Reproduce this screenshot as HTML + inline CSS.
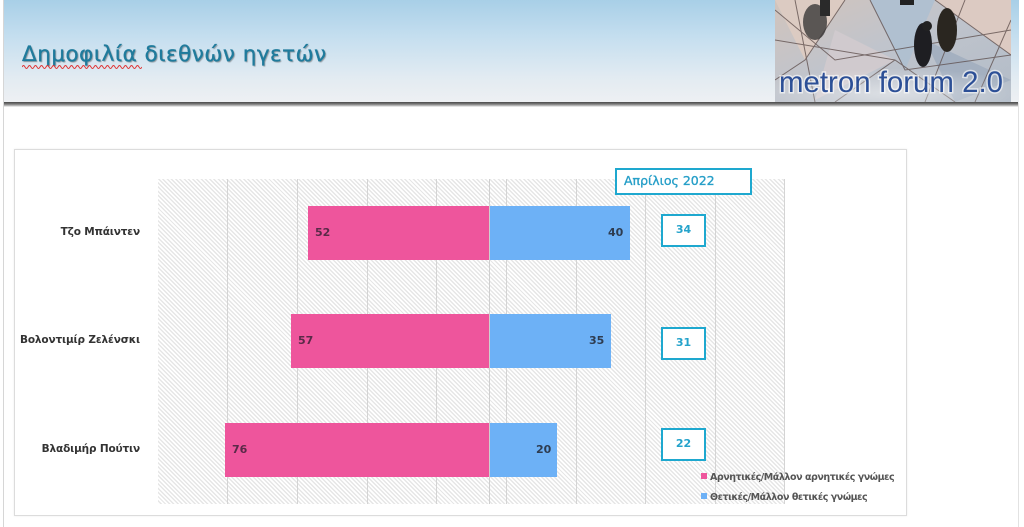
<!DOCTYPE html>
<html><head><meta charset="utf-8"><style>
html,body{margin:0;padding:0;}
body{width:1024px;height:527px;position:relative;overflow:hidden;background:#fff;font-family:"DejaVu Sans","Liberation Sans",sans-serif;}
.abs{position:absolute;}
#page{left:3px;top:0;width:1016px;height:527px;border-left:1px solid #d6d6d6;border-right:1px solid #e2e2e2;box-sizing:border-box;}
#hdr{left:4px;top:0;width:1015px;height:103px;background:linear-gradient(to bottom,#a8cfe7 0%,#c4deef 35%,#e2ebf2 75%,#eef0f3 100%);}
#shadow{left:4px;top:102px;width:1014px;height:5px;background:linear-gradient(to bottom,#4a4a4a 0%,#777 40%,#c8c8c8 80%,#fff 100%);}
#title{left:22px;top:42px;font-size:21.5px;color:#1f7b9c;text-shadow:1px 1px 1px rgba(0,0,0,0.35);white-space:nowrap;letter-spacing:0.5px;-webkit-text-stroke:0.35px #1f7b9c;}
#chart{left:14px;top:149px;width:893px;height:367px;border:1px solid #dcdcdc;box-sizing:border-box;box-shadow:0 0 2px rgba(0,0,0,0.08);}
#plot{left:158px;top:179px;width:627px;height:325px;background:repeating-linear-gradient(45deg,#ffffff 0px,#ffffff 1.6px,#e6e6e6 1.6px,#e6e6e6 3px);}
.grid{position:absolute;top:179px;width:1px;height:325px;background:#d4d4d4;}
.bar{position:absolute;height:54px;}
.pink{background:#ee559c;}
.blue{background:#6db1f6;}
.lbl{position:absolute;font-size:11px;font-weight:bold;line-height:14px;}
.cat{position:absolute;right:884px;font-size:10.5px;font-weight:bold;color:#333;white-space:nowrap;text-align:right;letter-spacing:-0.15px;}
.box{position:absolute;width:45px;height:33px;border:2.5px solid #1ea8cf;box-sizing:border-box;background:#fff;color:#25a3cb;font-size:11px;font-weight:bold;text-align:center;line-height:28px;}
#month{left:615px;top:168px;width:137px;height:27px;border:2.5px solid #1ea8cf;box-sizing:border-box;background:#fff;color:#279fc8;font-size:12.5px;line-height:22px;padding-left:7px;white-space:nowrap;-webkit-text-stroke:0.35px #279fc8;}
.leg{position:absolute;font-size:9.5px;font-weight:bold;color:#555;white-space:nowrap;line-height:12px;letter-spacing:-0.45px;}
.sq{display:inline-block;width:6px;height:6px;margin-right:3px;vertical-align:1px;}
</style></head><body>
<div id="page" class="abs"></div>
<div id="hdr" class="abs"></div>
<div id="shadow" class="abs"></div>
<div id="title" class="abs">Δημοφιλία διεθνών ηγετών</div>
<svg class="abs" style="left:22px;top:64px" width="120" height="6"><path d="M0 3 Q1.5 0 3 3 T6 3 T9 3 T12 3 T15 3 T18 3 T21 3 T24 3 T27 3 T30 3 T33 3 T36 3 T39 3 T42 3 T45 3 T48 3 T51 3 T54 3 T57 3 T60 3 T63 3 T66 3 T69 3 T72 3 T75 3 T78 3 T81 3 T84 3 T87 3 T90 3 T93 3 T96 3 T99 3 T102 3 T105 3 T108 3 T111 3 T114 3 T117 3 T120 3" stroke="#e03030" stroke-width="0.9" fill="none"/></svg>

<svg class="abs" style="left:775px;top:0" width="236" height="102">
<defs>
<linearGradient id="lg" x1="0" y1="0" x2="1" y2="1">
<stop offset="0" stop-color="#d2c4bc"/><stop offset="0.45" stop-color="#c0c4cc"/><stop offset="1" stop-color="#b2bcc8"/>
</linearGradient>
<radialGradient id="rg" cx="0.5" cy="0.8" r="0.6"><stop offset="0" stop-color="#ffffff" stop-opacity="0.5"/><stop offset="1" stop-color="#ffffff" stop-opacity="0"/></radialGradient>
</defs>
<rect width="236" height="102" fill="url(#lg)"/>
<polygon points="0,0 70,0 30,60" fill="#dccbc2"/>
<polygon points="95,0 160,0 130,70" fill="#b0c0d0"/>
<polygon points="160,0 236,0 236,55" fill="#dccac2"/>
<polygon points="60,30 120,60 40,100" fill="#d0cace"/>
<polygon points="150,40 236,80 180,102" fill="#a4b0c0"/>
<g stroke="#5a4a48" stroke-width="1" fill="none" opacity="0.75">
<path d="M0 10 L60 60 L236 30"/><path d="M20 0 L40 102"/><path d="M70 0 L30 60 L0 80"/><path d="M95 0 L130 70 L236 55"/><path d="M160 0 L236 55"/><path d="M120 60 L60 102"/><path d="M0 40 L120 60 L180 102"/><path d="M190 0 L150 102"/><path d="M236 20 L200 102"/>
</g>
<ellipse cx="40" cy="22" rx="12" ry="18" fill="#3a3838" opacity="0.8"/>
<rect x="45" y="0" width="10" height="16" fill="#2a2a2a"/>
<ellipse cx="148" cy="45" rx="9" ry="22" fill="#1e1e22"/>
<ellipse cx="172" cy="30" rx="10" ry="22" fill="#2a2620"/>
<circle cx="152" cy="26" r="5" fill="#222"/>
<rect x="125" y="0" width="14" height="5" fill="#222"/>
<rect x="0" y="60" width="236" height="42" fill="url(#rg)"/>
<text x="4" y="92" font-family="Liberation Sans, sans-serif" font-size="30" fill="#2c4f96" textLength="224" lengthAdjust="spacingAndGlyphs" stroke="#ffffff" stroke-width="3" stroke-opacity="0.6" paint-order="stroke">metron forum 2.0</text>
</svg>

<div id="chart" class="abs"></div>
<div id="plot" class="abs"></div>
<div class="grid" style="left:227px"></div>
<div class="grid" style="left:297px"></div>
<div class="grid" style="left:367px"></div>
<div class="grid" style="left:436px"></div>
<div class="grid" style="left:489px;background:#cfcfcf"></div>
<div class="grid" style="left:506px"></div>
<div class="grid" style="left:576px"></div>
<div class="grid" style="left:645px"></div>
<div class="grid" style="left:715px"></div>
<div class="grid" style="left:784px"></div>

<div class="bar pink" style="left:308px;top:206px;width:181px"></div>
<div class="bar blue" style="left:490px;top:206px;width:140px"></div>
<div class="bar pink" style="left:291px;top:314px;width:198px"></div>
<div class="bar blue" style="left:490px;top:314px;width:121px"></div>
<div class="bar pink" style="left:225px;top:423px;width:264px"></div>
<div class="bar blue" style="left:490px;top:423px;width:67px"></div>

<div class="lbl" style="left:315px;top:226px;color:#5a2a48">52</div>
<div class="lbl" style="left:608px;top:226px;color:#2e3c50">40</div>
<div class="lbl" style="left:298px;top:334px;color:#5a2a48">57</div>
<div class="lbl" style="left:589px;top:334px;color:#2e3c50">35</div>
<div class="lbl" style="left:232px;top:443px;color:#5a2a48">76</div>
<div class="lbl" style="left:536px;top:443px;color:#2e3c50">20</div>

<div class="cat" style="top:226px">Τζο Μπάιντεν</div>
<div class="cat" style="top:334px">Βολοντιμίρ Ζελένσκι</div>
<div class="cat" style="top:443px">Βλαδιμήρ Πούτιν</div>

<div id="month" class="abs">Απρίλιος 2022</div>
<div class="box" style="left:661px;top:214px">34</div>
<div class="box" style="left:661px;top:327px">31</div>
<div class="box" style="left:661px;top:428px">22</div>

<div class="leg" style="left:701px;top:472px"><span class="sq" style="background:#ee559c"></span>Αρνητικές/Μάλλον αρνητικές γνώμες</div>
<div class="leg" style="left:701px;top:492px"><span class="sq" style="background:#6db1f6"></span>Θετικές/Μάλλον θετικές γνώμες</div>
</body></html>
